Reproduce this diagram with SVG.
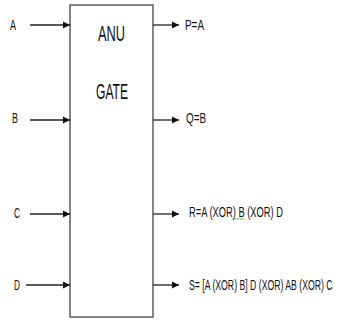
<svg xmlns="http://www.w3.org/2000/svg" width="343" height="322" viewBox="0 0 343 322">
<style>
.t{font-family:"Liberation Sans",Arial,sans-serif;fill:#111;}
.lbl{font-size:14.5px;}
.big{font-size:22px;}
.ln{stroke:#222;stroke-width:1.3;fill:none;}
</style>
<defs>
<marker id="ah" markerWidth="8" markerHeight="8" refX="7" refY="4" orient="auto" markerUnits="userSpaceOnUse">
<path d="M0,0.5 L7,4 L0,7.5 Z" fill="#111"/>
</marker>
</defs>
<rect width="343" height="322" fill="#fff"/>
<g id="gate">
<rect x="70" y="5" width="83" height="312" fill="#fff" stroke="#444" stroke-width="1.3"/>
<text class="t big" x="98" y="41" textLength="27" lengthAdjust="spacingAndGlyphs">ANU</text>
<text class="t big" x="96" y="99" textLength="32" lengthAdjust="spacingAndGlyphs">GATE</text>
</g>
<g id="inputs">
<g id="inA"><text class="t lbl" x="10" y="30" textLength="6" lengthAdjust="spacingAndGlyphs">A</text></g>
<g id="inB"><text class="t lbl" x="12" y="123" textLength="6" lengthAdjust="spacingAndGlyphs">B</text></g>
<g id="inC"><text class="t lbl" x="14" y="218" textLength="6" lengthAdjust="spacingAndGlyphs">C</text></g>
<g id="inD"><text class="t lbl" x="14" y="290" textLength="6" lengthAdjust="spacingAndGlyphs">D</text></g>
</g>
<g id="outputs">
<g id="outP"><text class="t lbl" x="185" y="30" textLength="19" lengthAdjust="spacingAndGlyphs">P=A</text></g>
<g id="outQ"><text class="t lbl" x="186" y="123" textLength="20" lengthAdjust="spacingAndGlyphs">Q=B</text></g>
<g id="outR"><text class="t lbl" x="189" y="217" textLength="94" lengthAdjust="spacingAndGlyphs">R=A (XOR) B (XOR) D</text>
<path d="M232,219.5 l1.5,-1.5 l1.5,1.5 l1.5,-1.5 l1.5,1.5 l1.5,-1.5 l1.5,1.5 l1.5,-1.5 l1.5,1.5" stroke="#4a4" stroke-width="0.8" fill="none"/></g>
<g id="outS" transform="translate(189,290) scale(0.6,1)"><text class="t lbl" x="0" y="0">S= [A (XOR) B] D  (XOR) AB (XOR) C</text></g>
</g>
<g id="connectors">
<line class="ln" x1="30" y1="25" x2="70" y2="25" marker-end="url(#ah)"/>
<line class="ln" x1="30" y1="120" x2="70" y2="120" marker-end="url(#ah)"/>
<line class="ln" x1="30" y1="214" x2="70" y2="214" marker-end="url(#ah)"/>
<line class="ln" x1="26" y1="285" x2="70" y2="285" marker-end="url(#ah)"/>
<line class="ln" x1="153" y1="25" x2="179" y2="25" marker-end="url(#ah)"/>
<line class="ln" x1="153" y1="120" x2="179" y2="120" marker-end="url(#ah)"/>
<line class="ln" x1="153" y1="214" x2="179" y2="214" marker-end="url(#ah)"/>
<line class="ln" x1="153" y1="285" x2="179" y2="285" marker-end="url(#ah)"/>
</g>
</svg>
